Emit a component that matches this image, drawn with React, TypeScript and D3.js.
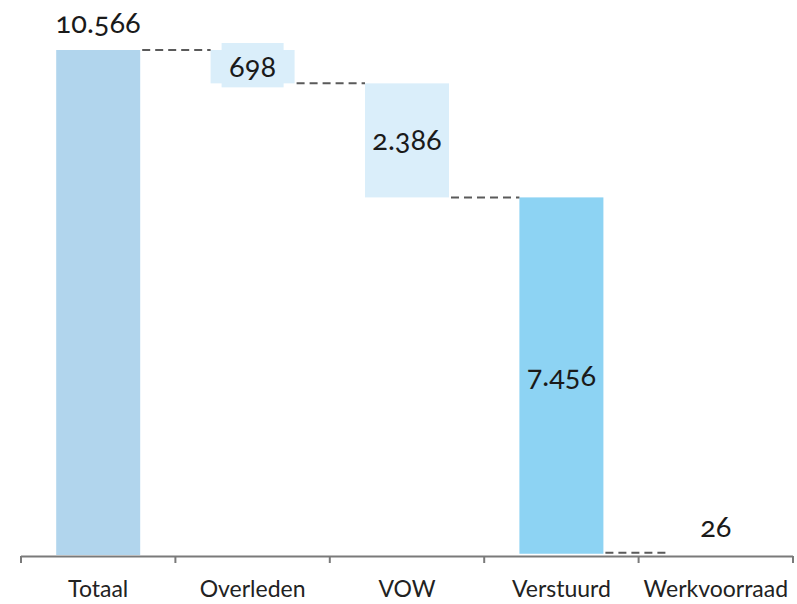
import React from "react";
import * as d3 from "d3";

const categories = ["Totaal", "Overleden", "VOW", "Verstuurd", "Werkvoorraad"];
const values = [10566, -698, -2386, -7456, 26];
const labels = ["10.566", "698", "2.386", "7.456", "26"];
const kinds = ["total", "step", "step", "step", "total"];
const colors = ["#b1d5ed", "#daeefa", "#daeefa", "#8dd3f3", "#ffffff"];

const W = 797;
const H = 604;

export default function App() {
  const x = d3
    .scaleBand<string>()
    .domain(categories)
    .range([21, 793])
    .paddingInner(0.456)
    .paddingOuter(0.228);
  const y = d3.scaleLinear().domain([0, 10566]).range([555, 50]);

  let running = 0;
  const segs = categories.map((c, i) => {
    let lo: number, hi: number;
    if (kinds[i] === "total") {
      lo = 0;
      hi = values[i];
      running = i === 0 ? values[i] : running;
    } else {
      const prev = running;
      running = running + values[i];
      lo = Math.min(prev, running);
      hi = Math.max(prev, running);
    }
    return { c, lo, hi, i };
  });
  const ends: number[] = [];
  let r = 0;
  categories.forEach((c, i) => {
    if (i === 0) r = values[0];
    else if (kinds[i] === "step") r += values[i];
    ends.push(r);
  });

  const bw = x.bandwidth();
  const font = "Lato, 'Open Sans', sans-serif";
  const step = x.step();

  return (
    <svg width={W} height={H} style={{ position: "absolute", left: 0, top: 0 }}>
      <rect
        x={(x("Overleden") as number) + bw / 2 - 31}
        y={y(ends[0]) - 7}
        width={62}
        height={y(ends[1]) - y(ends[0]) + 11}
        fill={colors[1]}
      />
      {segs.map((s) =>
        s.c === "Werkvoorraad" ? null : (
          <rect
            key={s.c}
            x={x(s.c)}
            y={y(s.hi)}
            width={bw}
            height={y(s.lo) - y(s.hi)}
            fill={colors[s.i]}
          />
        )
      )}
      {categories.slice(0, -1).map((c, i) => {
        const x1 = (x(c) as number) + bw;
        const x2 = i === 3 ? x1 + 66 : (x(categories[i + 1]) as number);
        const yy = i === 3 ? y(values[4]) - 1 : y(ends[i]);
        return (
          <line
            key={c}
            x1={x1 + 2}
            x2={x2}
            y1={yy}
            y2={yy}
            stroke="#5a5a5a"
            strokeWidth={2}
            strokeDasharray="8,5"
          />
        );
      })}
      <line x1={21} x2={793} y1={556.5} y2={556.5} stroke="#7a7a7a" strokeWidth={2} />
      {d3.range(categories.length + 1).map((k) => {
        const xx = 21 + k * step;
        return (
          <line key={k} x1={xx} x2={xx} y1={556} y2={563} stroke="#7a7a7a" strokeWidth={2} />
        );
      })}
      {categories.map((c) => (
        <text
          key={c}
          x={(x(c) as number) + bw / 2}
          y={597}
          textAnchor="middle"
          fontFamily={font}
          fontSize={23}
          fill="#222"
        >
          {c}
        </text>
      ))}
      {segs.map((s, i) => {
        const cx = (x(s.c) as number) + bw / 2;
        let ty: number;
        if (i === 0 || i === 4) ty = y(s.hi) - 17;
        else ty = (y(s.hi) + y(s.lo)) / 2 + 10;
        return (
          <text
            key={s.c}
            x={cx}
            y={ty}
            textAnchor="middle"
            fontFamily={font}
            fontSize={29}
            fill="#1a1a1a"
            style={{ fontVariantNumeric: "oldstyle-nums" }}
          >
            {labels[i]}
          </text>
        );
      })}
    </svg>
  );
}
